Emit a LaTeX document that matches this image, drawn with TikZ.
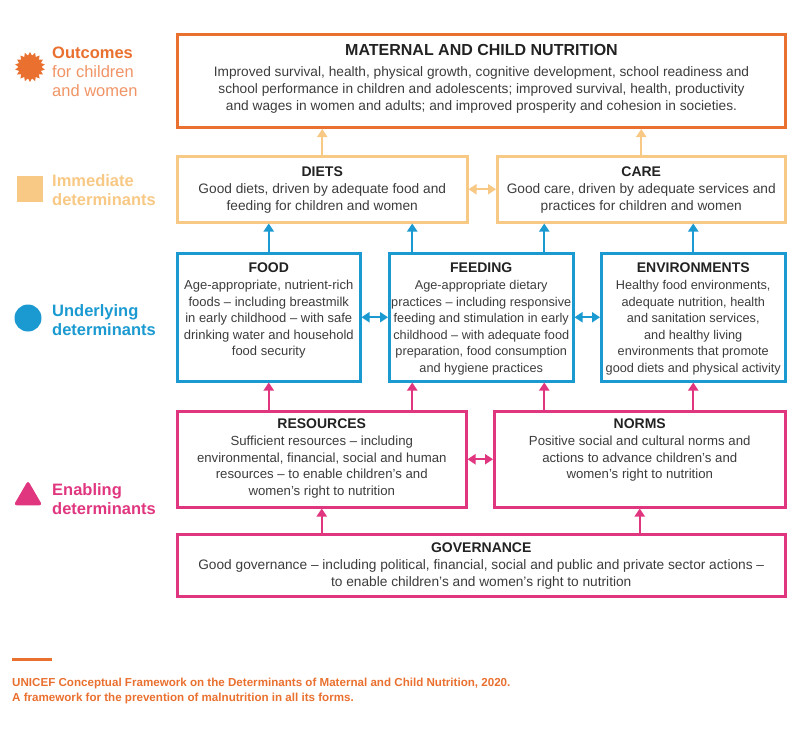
\documentclass[tikz,border=0pt]{standalone}
\usepackage{fontspec}
\setmainfont{Liberation Sans}
\usetikzlibrary{arrows.meta,shapes.geometric}

\definecolor{outOrange}{HTML}{E9702F}
\definecolor{outLight}{HTML}{F09466}
\definecolor{immOrange}{HTML}{F8C885}
\definecolor{undBlue}{HTML}{1A9AD1}
\definecolor{enaPink}{HTML}{E0367F}
\definecolor{bodyGray}{HTML}{3C3C3C}
\definecolor{titleGray}{HTML}{222222}

\newcommand{\boxtitle}[1]{{\fontsize{14}{16}\selectfont\bfseries\color{titleGray}#1}}

\begin{document}
\begin{tikzpicture}[
    x=1pt, y=-1pt,
    box/.style={rectangle, draw, line width=2.5pt, inner sep=0pt, anchor=north west},
    txt/.style={anchor=north, align=center, inner sep=0pt, text=bodyGray, font=\fontsize{13.7}{16.6}\selectfont},
    narrow/.style={font=\fontsize{12.7}{16.6}\selectfont},
    legend/.style={anchor=west, align=left, inner sep=0pt, font=\fontsize{16.5}{19}\selectfont},
    up/.style={-{Triangle[width=10pt,length=8pt]}, line width=2pt},
    both/.style={{Triangle[width=10pt,length=8pt]}-{Triangle[width=10pt,length=8pt]}, line width=2pt}
]
\useasboundingbox (0,0) rectangle (800,729);

% Legend
\node[star, star points=18, star point ratio=1.3, fill=outOrange, minimum size=30pt, inner sep=0pt] (outIcon) at (30,67) {};
\node[legend, text=outOrange] (outLbl) at (52,72) {{\bfseries Outcomes}\\{\color{outLight}for children}\\{\color{outLight}and women}};
\node[rectangle, fill=immOrange, minimum size=26pt, inner sep=0pt] (immIcon) at (30,189) {};
\node[legend, text=immOrange] (immLbl) at (52,190) {\bfseries Immediate\\\bfseries determinants};
\node[circle, fill=undBlue, minimum size=27pt, inner sep=0pt] (undIcon) at (28,318) {};
\node[legend, text=undBlue] (undLbl) at (52,320) {\bfseries Underlying\\\bfseries determinants};
\node[regular polygon, regular polygon sides=3, rounded corners=3pt, fill=enaPink, minimum size=33pt, inner sep=0pt] (enaIcon) at (28,497) {};
\node[legend, text=enaPink] (enaLbl) at (52,499) {\bfseries Enabling\\\bfseries determinants};

% Outcomes
\node[box, draw=outOrange, line width=3pt, minimum width=608, minimum height=93] (maternal) at (176,33) {};
\node[txt] (maternalTxt) at ([yshift=-11pt]maternal.north) {{\fontsize{16}{18}\selectfont\bfseries\color{titleGray}MATERNAL AND CHILD NUTRITION}\\[5pt]
    Improved survival, health, physical growth, cognitive development, school readiness and\\
    school performance in children and adolescents; improved survival, health, productivity\\
    and wages in women and adults; and improved prosperity and cohesion in societies.};

% Immediate determinants
\node[box, draw=immOrange, minimum width=290, minimum height=66] (diets) at (176,155) {};
\node[txt] (dietsTxt) at ([yshift=-12pt]diets.north) {\boxtitle{DIETS}\\Good diets, driven by adequate food and\\feeding for children and women};
\node[box, draw=immOrange, minimum width=288, minimum height=66] (care) at (496,155) {};
\node[txt] (careTxt) at ([yshift=-12pt]care.north) {\boxtitle{CARE}\\Good care, driven by adequate services and\\practices for children and women};

% Underlying determinants
\node[box, draw=undBlue, minimum width=183, minimum height=128] (food) at (176,252) {};
\node[txt, font=\fontsize{13}{16.6}\selectfont] (foodTxt) at ([yshift=-11pt]food.north) {\boxtitle{FOOD}\\Age-appropriate, nutrient-rich\\foods -- including breastmilk\\in early childhood -- with safe\\drinking water and household\\food security};
\node[box, draw=undBlue, minimum width=184, minimum height=128] (feeding) at (388,252) {};
\node[txt, narrow] (feedingTxt) at ([yshift=-11pt]feeding.north) {\boxtitle{FEEDING}\\Age-appropriate dietary\\practices -- including responsive\\feeding and stimulation in early\\childhood -- with adequate food\\preparation, food consumption\\and hygiene practices};
\node[box, draw=undBlue, minimum width=184, minimum height=128] (env) at (600,252) {};
\node[txt, narrow] (envTxt) at ([yshift=-11pt]env.north) {\boxtitle{ENVIRONMENTS}\\Healthy food environments,\\adequate nutrition, health\\and sanitation services,\\and healthy living\\environments that promote\\good diets and physical activity};

% Enabling determinants
\node[box, draw=enaPink, minimum width=289, minimum height=96] (resources) at (176,410) {};
\node[txt, font=\fontsize{13.2}{16.6}\selectfont] (resourcesTxt) at ([yshift=-9pt]resources.north) {\boxtitle{RESOURCES}\\Sufficient resources -- including\\environmental, financial, social and human\\resources -- to enable children's and\\women's right to nutrition};
\node[box, draw=enaPink, minimum width=291, minimum height=96] (norms) at (493,410) {};
\node[txt, font=\fontsize{13.2}{16.6}\selectfont] (normsTxt) at ([yshift=-9pt]norms.north) {\boxtitle{NORMS}\\Positive social and cultural norms and\\actions to advance children's and\\women's right to nutrition};
\node[box, draw=enaPink, minimum width=608, minimum height=62] (governance) at (176,533) {};
\node[txt] (governanceTxt) at ([yshift=-10pt]governance.north) {\boxtitle{GOVERNANCE}\\Good governance -- including political, financial, social and public and private sector actions --\\to enable children's and women's right to nutrition};

% Arrow positions under FEEDING
\coordinate (feedL) at ([xshift=-69pt]feeding.center);
\coordinate (feedR) at ([xshift=63pt]feeding.center);

% Links
\draw[up, immOrange] (diets.north) -- (diets.north |- maternal.south);
\draw[up, immOrange] (care.north) -- (care.north |- maternal.south);
\draw[both, immOrange] (diets.east) -- (care.west);

\draw[up, undBlue] (food.north) -- (food.north |- diets.south);
\draw[up, undBlue] (feedL |- feeding.north) -- (feedL |- diets.south);
\draw[up, undBlue] (feedR |- feeding.north) -- (feedR |- care.south);
\draw[up, undBlue] (env.north) -- (env.north |- care.south);
\draw[both, undBlue] (food.east) -- (feeding.west);
\draw[both, undBlue] (feeding.east) -- (env.west);

\draw[up, enaPink] (food.south |- resources.north) -- (food.south);
\draw[up, enaPink] (feedL |- resources.north) -- (feedL |- feeding.south);
\draw[up, enaPink] (feedR |- norms.north) -- (feedR |- feeding.south);
\draw[up, enaPink] (env.south |- norms.north) -- (env.south);
\draw[both, enaPink] (resources.east) -- (norms.west);
\draw[up, enaPink] (resources.south |- governance.north) -- (resources.south);
\draw[up, enaPink] (norms.south |- governance.north) -- (norms.south);

% Source
\draw[outOrange, line width=3pt] (12,659) -- (52,659);
\node[anchor=north west, align=left, inner sep=0pt, text=outOrange, font=\fontsize{11.6}{15}\selectfont\bfseries] (source) at (12,678) {UNICEF Conceptual Framework on the Determinants of Maternal and Child Nutrition, 2020.\\A framework for the prevention of malnutrition in all its forms.};

\end{tikzpicture}
\end{document}
